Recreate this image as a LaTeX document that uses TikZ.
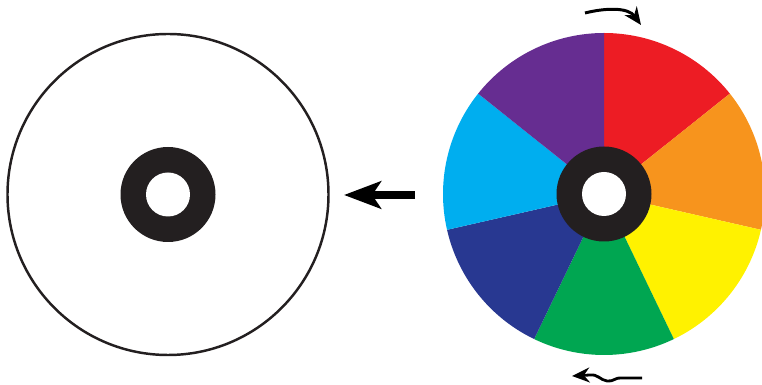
\documentclass[tikz,border=0pt]{standalone}
\usepackage{tikz}
\usetikzlibrary{arrows.meta}

\definecolor{discred}{HTML}{ED1C24}
\definecolor{discorange}{HTML}{F7941D}
\definecolor{discyellow}{HTML}{FFF200}
\definecolor{discgreen}{HTML}{00A651}
\definecolor{discnavy}{HTML}{283891}
\definecolor{disccyan}{HTML}{00AEEF}
\definecolor{discpurple}{HTML}{662D91}
\definecolor{discblack}{HTML}{231F20}

\begin{document}
\begin{tikzpicture}[x=0.02cm, y=0.02cm]
  \useasboundingbox (0,0) rectangle (762,385);

  \def\Rdisc{161}   % outer radius of both discs
  \def\Rring{47.5}  % black hub
  \def\Rhole{22}    % white centre hole

  %% Left: the spinning disc, seen as white
  \coordinate (L) at (168,190.5);
  \draw[line width=1.4pt, discblack] (L) circle (160.5);
  \fill[discblack] (L) circle (\Rring);
  \fill[white] (L) circle (\Rhole);

  %% Right: the colour wheel at rest, seven sectors clockwise from the top
  \coordinate (R) at (604,191);
  \foreach \col [count=\i] in {discred,discorange,discyellow,discgreen,discnavy,disccyan,discpurple}
    \fill[\col] (R) -- ++({90-(\i-1)*360/7}:\Rdisc)
      arc[start angle={90-(\i-1)*360/7}, delta angle=-360/7, radius=\Rdisc] -- cycle;
  \fill[discblack] (R) circle (\Rring);
  \fill[white] (R) circle (\Rhole);

  % Arrow from wheel to white disc
  \coordinate (arrowtail) at (415,190);
  \coordinate (arrowtip) at (344,190);
  \draw[line width=4pt, -{Stealth[length=21pt, width=15.5pt, inset=5pt]}] (arrowtail) -- (arrowtip);

  % Rotation hint, top
  \coordinate (spinstart) at (585,372);
  \coordinate (spinend) at (641,360);
  \draw[line width=1.7pt, -{Stealth[length=10pt, width=8.5pt]}]
    (spinstart) .. controls (605,377) and (628,378) .. (spinend);

  % Wavy arrow, bottom
  \coordinate (wavestart) at (642,7);
  \coordinate (waveend) at (572,9);
  \draw[line width=1.6pt, -{Stealth[length=10pt, width=8.5pt]}]
    (wavestart) -- (622,7) .. controls (615,8) and (614,3) .. (607,4)
    .. controls (600,5) and (598,11) .. (590,10) -- (waveend);
\end{tikzpicture}
\end{document}
